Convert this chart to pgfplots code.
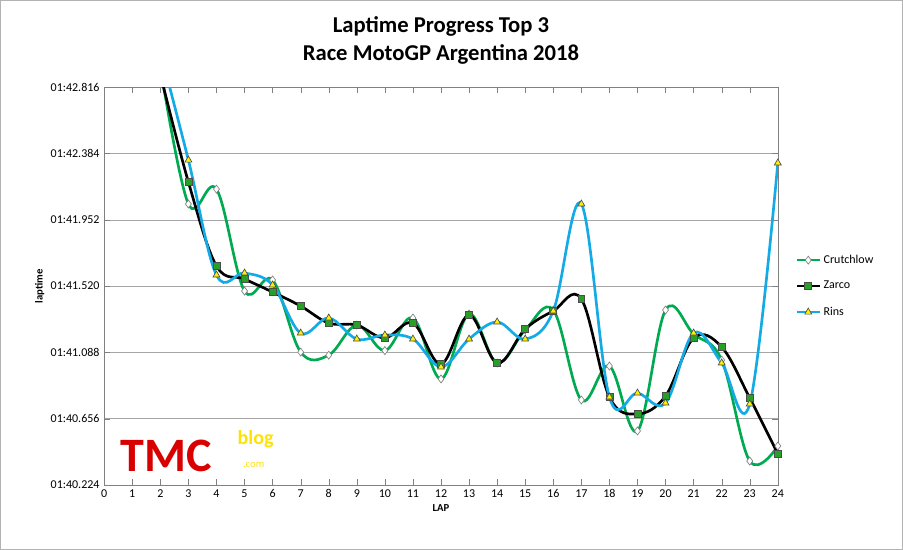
\documentclass[border=0pt]{standalone}
\usepackage{pgfplots}
\pgfplotsset{compat=1.18}
\usepackage{fontspec}
\setmainfont{Carlito}
\definecolor{cg}{RGB}{0,170,80}
\definecolor{cb}{RGB}{20,170,230}
\definecolor{cz}{RGB}{40,160,40}
\begin{document}
\begin{tikzpicture}
\begin{axis}[scale only axis, width=505.5pt, height=298.5pt,
 xmin=0, xmax=24, ymin=100.224, ymax=102.816,
 xtick={0,...,24}, ytick={100.224,100.656,101.088,101.520,101.952,102.384,102.816},
 yticklabels={01:40.224,01:40.656,01:41.088,01:41.520,01:41.952,01:42.384,01:42.816},
 /pgf/number format/assume math mode=true,
 ticklabel style={font=\fontsize{9}{10}\selectfont},
 ymajorgrids, grid style={gray!70},
 axis line style={gray}, tick style={gray},
 xlabel={\textbf{LAP}}, ylabel={\textbf{laptime}},
 label style={font=\fontsize{8}{10}\selectfont},
 xlabel style={yshift=2pt}, ylabel style={yshift=-2pt},
 legend style={at={(1.02,0.5)},anchor=west,draw=none,font=\fontsize{9}{10}\selectfont,row sep=8pt},
 legend cell align=left,
 title style={font=\bfseries\fontsize{17}{21}\selectfont,align=center,yshift=8pt},
 title={Laptime Progress Top 3\\Race MotoGP Argentina 2018},
]
\addplot[cg, line width=2pt, smooth, tension=0.6, mark=diamond*, mark options={fill=white,draw=gray,line width=0.5pt,scale=1.5}] coordinates {
(2,102.95)(3,102.055)(4,102.152)(5,101.488)(6,101.56)(7,101.09)(8,101.07)(9,101.266)(10,101.10)(11,101.312)(12,100.915)(13,101.338)(14,101.019)(15,101.234)(16,101.364)(17,100.778)(18,100.999)(19,100.576)(20,101.364)(21,101.208)(22,101.038)(23,100.38)(24,100.478)};
\addlegendentry{Crutchlow}
\addplot[black, line width=2pt, smooth, tension=0.6, mark=square*, mark options={fill=cz,draw=gray!60!black,line width=0.5pt,scale=1.3}] coordinates {
(2,102.9)(3,102.198)(4,101.651)(5,101.566)(6,101.481)(7,101.39)(8,101.279)(9,101.266)(10,101.182)(11,101.279)(12,101.012)(13,101.331)(14,101.019)(15,101.24)(16,101.358)(17,101.436)(18,100.797)(19,100.687)(20,100.804)(21,101.182)(22,101.123)(23,100.791)(24,100.426)};
\addlegendentry{Zarco}
\addplot[cb, line width=2pt, smooth, tension=0.6, mark=triangle*, mark options={fill=yellow,draw=gray!60!black,line width=0.5pt,scale=1.5}] coordinates {
(2,103.05)(3,102.341)(4,101.592)(5,101.605)(6,101.527)(7,101.214)(8,101.312)(9,101.175)(10,101.201)(11,101.175)(12,100.993)(13,101.175)(14,101.286)(15,101.175)(16,101.358)(17,102.055)(18,100.797)(19,100.823)(20,100.758)(21,101.214)(22,101.019)(23,100.752)(24,102.322)};
\addlegendentry{Rins}
\end{axis}
\node[anchor=west,font=\bfseries\fontsize{36}{36}\selectfont,text=red!85!black,inner sep=0pt] at (12pt,22pt) {TMC};
\node[anchor=west,font=\bfseries\fontsize{15}{15}\selectfont,text=yellow!85!orange,inner sep=0pt] at (100pt,34pt) {blog};
\node[anchor=west,font=\fontsize{8}{8}\selectfont,text=yellow!85!orange,inner sep=0pt] at (104pt,15pt) {.com};
\draw[gray!60] (-78pt,-48pt) rectangle (599.25pt,363.75pt);
\end{tikzpicture}
\end{document}
